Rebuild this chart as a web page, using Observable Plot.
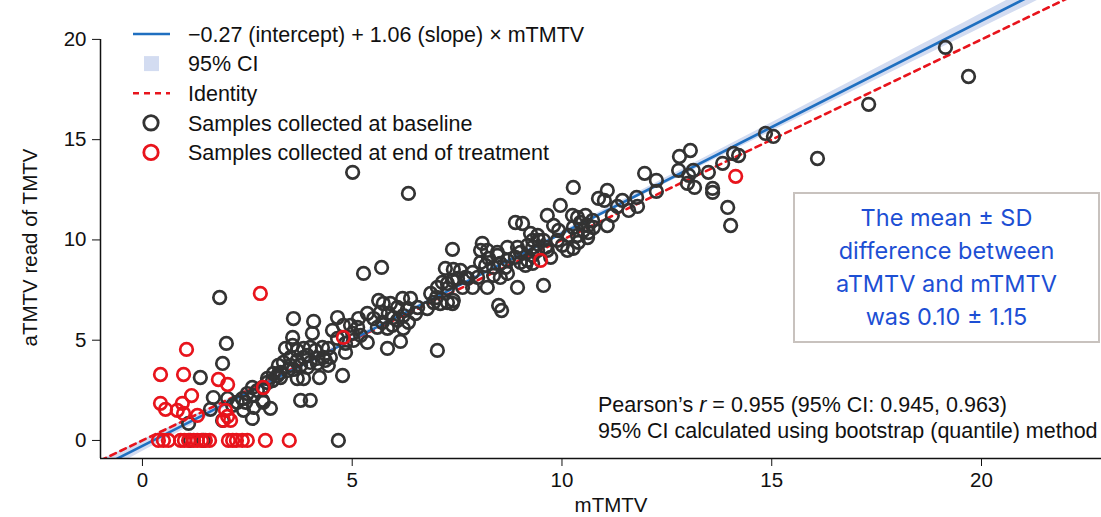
<!DOCTYPE html>
<html><head><meta charset="utf-8">
<script src="https://cdn.jsdelivr.net/npm/d3@7"></script>
<script src="https://cdn.jsdelivr.net/npm/@observablehq/plot@0.6"></script>
<style>body{margin:0;background:#fff} svg{display:block}</style>
</head><body><div id="chart"></div>
<script>
// Fitted model (from the legend)
const intercept = -0.27, slope = 1.06;

// Samples collected at baseline [mTMTV, aTMTV]
const baseline = [
[1.10,0.85],[1.38,3.14],[2.00,4.84],[1.91,3.84],[1.69,2.14],[1.62,1.55],[1.91,1.00],[2.03,2.09],[1.84,7.13],[4.67,0],[1.14,0],[1.45,0],
[2.62,2.64],[2.74,2.49],[2.86,2.64],[2.50,2.34],[2.65,2.24],[2.38,2.09],[2.26,1.90],[2.46,1.90],[2.86,2.00],[3.05,1.60],[2.65,1.65],[2.41,1.50],[2.62,1.10],[2.15,1.75],[2.88,1.90],
[2.98,3.09],[3.10,2.99],[3.22,3.24],[3.12,3.34],[3.29,3.39],[3.46,3.49],[3.60,3.54],[3.24,3.74],[3.36,3.89],[3.53,3.74],[3.69,3.99],[3.84,4.14],[4.00,3.89],[4.17,4.09],[4.31,4.14],
[3.69,3.09],[3.84,3.09],[4.22,3.14],[3.77,2.00],[4.00,2.00],[4.77,3.24],[2.98,2.89],[3.29,3.14],
[3.41,4.59],[3.58,4.74],[3.69,4.49],[3.84,4.59],[4.00,4.64],[4.12,4.49],[4.29,4.64],[4.43,4.59],[3.53,4.14],[3.93,4.24],[4.36,3.99],[4.48,4.14],[3.77,3.74],[3.93,3.64],[4.17,3.84],[4.43,3.74],
[3.60,6.08],[4.08,5.94],[4.05,5.34],[3.58,5.14],
[4.65,6.13],[4.79,5.74],[4.96,5.74],[5.13,5.64],[4.53,5.49],[4.65,5.09],[4.84,4.84],[5.03,4.99],[5.20,5.24],[5.36,4.89],[4.84,4.39],[5.01,5.34],[5.15,6.08],[5.36,6.33],[5.51,6.08],[5.60,5.64],[5.72,5.89],[5.84,5.59],[5.96,5.74],[6.08,5.99],
[5.63,6.98],[5.74,6.83],[5.91,6.83],[6.08,6.63],[6.20,7.08],[6.39,7.08],[6.32,6.58],[6.22,6.23],[5.98,6.13],[5.86,6.33],[5.67,6.38],[6.34,5.89],[6.22,5.59],[6.51,6.33],[6.56,6.63],
[5.84,4.59],[6.15,4.94],[5.27,8.33],[5.70,8.63],[5.01,13.37],[6.34,12.32],
[6.79,6.58],[6.94,6.88],[7.10,6.83],[7.27,6.88],[7.39,6.83],[7.03,7.63],[7.15,7.88],[7.27,7.83],[7.39,7.98],[7.51,8.08],[7.22,8.58],[6.87,7.33],[7.01,7.13],[7.27,7.58],[7.63,7.63],[7.75,8.08],[7.87,7.63],[7.99,8.13],[7.41,6.98],[7.41,8.53],[7.58,8.48],[7.70,8.13],[7.87,8.38],[7.03,4.49],[7.39,9.53],
[8.06,8.88],[8.25,9.08],[8.46,9.23],[8.18,8.73],[8.37,8.63],[8.53,8.83],[8.70,8.98],[8.37,8.23],[8.53,8.13],[8.70,8.33],[8.22,7.63],[8.06,9.48],[8.22,9.48],[8.46,9.38],[8.70,9.63],[8.10,9.83],[8.94,9.63],
[8.89,9.13],[9.01,8.88],[9.18,8.98],[9.30,9.23],[9.42,9.48],[9.01,9.38],[9.18,9.73],[9.30,9.98],[9.44,9.98],[9.56,9.98],[9.65,9.48],[9.73,9.13],[9.30,8.83],[9.13,8.73],
[8.89,10.87],[9.06,10.82],[9.25,10.32],[9.42,10.22],[8.94,7.63],[9.56,7.73],[8.49,6.73],[8.56,6.48],[8.65,8.63],
[9.65,11.22],[9.80,10.72],[9.92,10.47],[9.96,11.72],[10.15,10.22],[10.27,10.62],[10.37,11.12],[10.44,10.87],[10.51,10.47],[10.56,11.22],[10.73,10.97],[10.75,10.62],[10.61,10.12],[10.13,9.48],[10.27,9.58],[10.39,9.88],[10.87,12.07],[10.27,12.62],
[9.30,9.63],[9.61,9.63],[9.89,9.98],[10.01,9.73],[10.25,11.22],[10.37,10.22],[10.63,10.72],[10.63,10.37],
[11.01,11.97],[11.08,12.47],[11.08,10.72],[11.20,11.22],[11.32,11.67],[11.44,11.97],[11.59,11.47],[11.80,11.67],[11.78,12.12],[11.97,13.32],[12.25,12.97],[12.25,12.42],
[12.80,14.16],[13.06,14.46],[12.78,13.47],[13.02,13.22],[13.13,13.47],[12.99,12.82],[13.16,12.62],[13.49,13.37],[13.83,13.82],[14.09,14.31],[14.21,14.21],[14.85,15.31],[15.04,15.16],
[13.59,12.57],[13.59,12.37],[13.95,11.62],[14.02,10.72],[16.09,14.06],[17.31,16.76],[19.14,19.60],[19.69,18.15]
];

// Samples collected at end of treatment [mTMTV, aTMTV]
const endTreatment = [
[0.38,0],[0.50,0],[0.62,0],[0.91,0],[1.00,0],[1.10,0],[1.22,0],[1.31,0],[1.41,0],[1.50,0],[1.60,0],[2.05,0],[2.15,0],[2.24,0],[2.38,0],[2.50,0],[2.93,0],[3.50,0],
[1.05,4.54],[0.43,3.29],[0.98,3.29],[1.81,3.04],[2.03,2.79],[1.17,2.24],[0.43,1.85],[0.55,1.55],[0.95,1.85],[0.83,1.50],[0.98,1.35],[1.31,1.25],[1.98,1.50],[2.03,1.20],[2.10,1.00],[1.93,1.00],[2.88,2.64],[2.81,7.33],[4.79,5.14],[9.49,8.98],[14.14,13.17]
];

// 95% CI band half-width
const ciX = [-1, 2, 6, 10, 14, 18, 23];
const ciHalf = [0.35, 0.18, 0.09, 0.10, 0.19, 0.30, 0.45];

const xTicks = [0, 5, 10, 15, 20];
const yTicks = [0, 5, 10, 15, 20];
const xDomain = [-1, 22.86];
const yDomain = [-0.9, 21.94];
const xLabel = "mTMTV";
const yLabel = "aTMTV read of TMTV";
const legendLabels = ["\u22120.27 (intercept) + 1.06 (slope) \u00d7 mTMTV", "95% CI", "Identity", "Samples collected at baseline", "Samples collected at end of treatment"];
const boxLines = ["The mean \u00b1 SD", "difference between", "aTMTV and mTMTV", "was 0.10 \u00b1 1.15"];
const pearsonLine = ["Pearson\u2019s ", "r", " = 0.955 (95% CI: 0.945, 0.963)"];
const methodLine = "95% CI calculated using bootstrap (quantile) method";

const BLUE = "#1f6fc0", BAND = "#d3dcf1", RED = "#e8141c", GREY = "#333333", BOXTEXT = "#1d4fd4";
const FS = 21.5;

const ci = ciX.map((x, i) => ({x, lo: intercept + slope * x - ciHalf[i], hi: intercept + slope * x + ciHalf[i]}));
const reg = [xDomain[0], 23].map(x => ({x, y: intercept + slope * x}));
const identity = [-1, 23].map(x => ({x, y: x}));

function annotations(index, scales, values, dim) {
  const g = d3.create("svg:g").attr("font-family", "'Liberation Sans', Arial, sans-serif").attr("text-anchor", "start");
  // legend
  const lx = dim.marginLeft + 33, tx = dim.marginLeft + 88, y0 = 34, dy = 29.6;
  legendLabels.forEach((lab, i) => {
    const y = y0 + i * dy;
    if (i === 0) g.append("line").attr("x1", lx).attr("x2", lx + 37).attr("y1", y).attr("y2", y).attr("stroke", BLUE).attr("stroke-width", 2.6);
    if (i === 1) g.append("rect").attr("x", lx + 11).attr("y", y - 7.5).attr("width", 15).attr("height", 15).attr("fill", BAND);
    if (i === 2) g.append("line").attr("x1", lx).attr("x2", lx + 37).attr("y1", y).attr("y2", y).attr("stroke", RED).attr("stroke-width", 2.6).attr("stroke-dasharray", "6,5");
    if (i === 3 || i === 4) g.append("circle").attr("cx", lx + 18).attr("cy", y).attr("r", 7.2).attr("fill", "none").attr("stroke", i === 3 ? GREY : RED).attr("stroke-width", 2.8);
    g.append("text").attr("x", tx).attr("y", y).attr("dy", "0.36em").attr("text-anchor", "start").attr("font-size", FS).attr("fill", "#111").text(lab);
  });
  // box
  const bx = dim.width - 307, by = 193, bw = 305, bh = 149;
  g.append("rect").attr("x", bx).attr("y", by).attr("width", bw).attr("height", bh).attr("fill", "#fff").attr("stroke", "#c8c2be").attr("stroke-width", 2);
  boxLines.forEach((t, i) => {
    g.append("text").attr("x", bx + bw / 2).attr("y", by + 25 + i * 33).attr("dy", "0.36em").attr("text-anchor", "middle")
      .attr("font-family", "Inter, Roboto, sans-serif").attr("font-size", 23.5).attr("fill", BOXTEXT).text(t);
  });
  // Pearson text
  const px = 598;
  const t1 = g.append("text").attr("x", px).attr("y", 404).attr("dy", "0.36em").attr("text-anchor", "start").attr("font-size", FS).attr("fill", "#111");
  pearsonLine.forEach((s, i) => t1.append("tspan").attr("font-style", i === 1 ? "italic" : null).text(s));
  g.append("text").attr("x", px).attr("y", 430).attr("dy", "0.36em").attr("text-anchor", "start").attr("font-size", FS).attr("fill", "#111").text(methodLine);
  return g.node();
}

const plot = Plot.plot({
  width: 1101, height: 517,
  marginLeft: 100, marginRight: 0, marginTop: 0, marginBottom: 59,
  x: {domain: xDomain},
  y: {domain: yDomain},
  style: {fontFamily: "'Liberation Sans', Arial, sans-serif", fontSize: "20.5px", color: "#111", background: "#fff"},
  marks: [
    Plot.areaY(ci, {x: "x", y1: "lo", y2: "hi", fill: BAND, curve: "natural", clip: true}),
    Plot.line(identity, {x: "x", y: "y", stroke: RED, strokeWidth: 2.6, strokeDasharray: "6,5", clip: true}),
    Plot.line(reg, {x: "x", y: "y", stroke: BLUE, strokeWidth: 2.6, clip: true}),
    Plot.dot(baseline, {x: d => d[0], y: d => d[1], r: 6.3, fill: "none", stroke: GREY, strokeWidth: 2.7}),
    Plot.dot(endTreatment, {x: d => d[0], y: d => d[1], r: 6.3, fill: "none", stroke: RED, strokeWidth: 2.7}),
    Plot.ruleY([yDomain[0]], {stroke: "#111", strokeWidth: 1.5}),
    Plot.ruleX([xDomain[0]], {y1: yDomain[0], y2: 20, stroke: "#111", strokeWidth: 1.5}),
    Plot.axisX({ticks: xTicks, tickSize: 8, tickPadding: 6, label: null, stroke: "#111"}),
    Plot.axisY({ticks: yTicks, tickSize: 8, tickPadding: 6, label: null, stroke: "#111"}),
    Plot.text([xLabel], {text: d => d, frameAnchor: "bottom", textAnchor: "middle", lineAnchor: "middle", dx: 10, dy: 47, fontSize: 20.5}),
    Plot.text([yLabel], {text: d => d, frameAnchor: "left", textAnchor: "middle", lineAnchor: "middle", rotate: -90, dx: -70, dy: 18, fontSize: 20.5}),
    annotations
  ]
});
document.getElementById("chart").appendChild(plot);
</script>
</body></html>
